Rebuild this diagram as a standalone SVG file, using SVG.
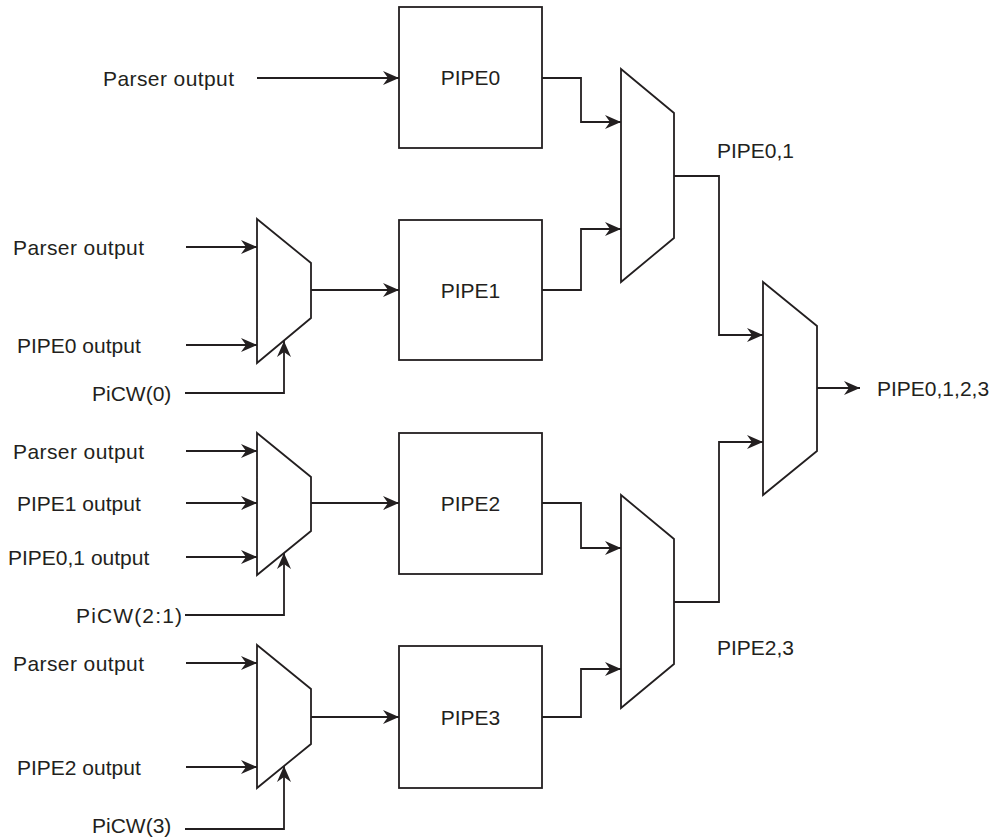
<svg xmlns="http://www.w3.org/2000/svg" width="1001" height="838" viewBox="0 0 1001 838">
  <style>
    .bg { fill: #ffffff; }
    .blk { fill: #ffffff; stroke: #231f20; stroke-width: 1.8; }
    .mux { fill: #ffffff; stroke: #231f20; stroke-width: 1.8; stroke-linejoin: miter; }
    .wire { fill: none; stroke: #231f20; stroke-width: 1.8; }
    .arr { marker-end: url(#head); }
    .lbl { font-family: "Liberation Sans", Arial, sans-serif; font-size: 21px; fill: #231f20; }
    .mid { text-anchor: middle; }
  </style>
  <defs>
    <marker id="head" markerUnits="userSpaceOnUse" markerWidth="18" markerHeight="16" refX="16" refY="7" orient="auto">
      <path d="M0,0 L16,7 L0,14 L5,7 z" fill="#231f20"/>
    </marker>
  </defs>
  <rect class="bg" width="1001" height="838"/>

  <!-- pipeline stages -->
  <g id="pipe0">
    <rect class="blk" x="399" y="7" width="143" height="141"/>
    <text class="lbl mid" x="470.5" y="85">PIPE0</text>
  </g>
  <g id="pipe1">
    <rect class="blk" x="399" y="220" width="143" height="140"/>
    <text class="lbl mid" x="470.5" y="297.5">PIPE1</text>
  </g>
  <g id="pipe2">
    <rect class="blk" x="399" y="433" width="143" height="141"/>
    <text class="lbl mid" x="470.5" y="511">PIPE2</text>
  </g>
  <g id="pipe3">
    <rect class="blk" x="399" y="646" width="143" height="142"/>
    <text class="lbl mid" x="470.5" y="724.5">PIPE3</text>
  </g>

  <!-- input selectors -->
  <g id="mux-in1">
    <polygon class="mux" points="257,219 311,263 311,318 257,363"/>
  </g>
  <g id="mux-in2">
    <polygon class="mux" points="257,433 311,477 311,531 257,575"/>
  </g>
  <g id="mux-in3">
    <polygon class="mux" points="257,645 311,689 311,744 257,788"/>
  </g>

  <!-- merge stages -->
  <g id="mux-01">
    <polygon class="mux" points="621,69 674,113 674,238 621,282"/>
  </g>
  <g id="mux-23">
    <polygon class="mux" points="621,495 674,539 674,664 621,708"/>
  </g>
  <g id="mux-0123">
    <polygon class="mux" points="763,282 817,326 817,451 763,495"/>
  </g>

  <!-- signal labels -->
  <g id="labels">
    <text class="lbl" x="103" y="86" textLength="131" lengthAdjust="spacing">Parser output</text>

    <text class="lbl" x="13" y="254.5" textLength="131" lengthAdjust="spacing">Parser output</text>
    <text class="lbl" x="17" y="352.5">PIPE0 output</text>
    <text class="lbl" x="92" y="400.5">PiCW(0)</text>

    <text class="lbl" x="13" y="458.5" textLength="131" lengthAdjust="spacing">Parser output</text>
    <text class="lbl" x="17" y="510.5">PIPE1 output</text>
    <text class="lbl" x="8" y="564.5">PIPE0,1 output</text>
    <text class="lbl" x="76" y="622.5" textLength="106" lengthAdjust="spacing">PiCW(2:1)</text>

    <text class="lbl" x="13" y="670.5" textLength="131" lengthAdjust="spacing">Parser output</text>
    <text class="lbl" x="17" y="774.5">PIPE2 output</text>
    <text class="lbl" x="92" y="833">PiCW(3)</text>

    <text class="lbl" x="717" y="158">PIPE0,1</text>
    <text class="lbl" x="717" y="655">PIPE2,3</text>
    <text class="lbl" x="877" y="395.5">PIPE0,1,2,3</text>
  </g>

  <!-- connectors -->
  <g id="connectors">
    <path class="wire arr" d="M257,78 H399"/>

    <path class="wire arr" d="M186,247 H257"/>
    <path class="wire arr" d="M186,345 H257"/>
    <path class="wire arr" d="M185,393 H284 V341"/>
    <path class="wire arr" d="M311,290 H399"/>

    <path class="wire arr" d="M186,451 H257"/>
    <path class="wire arr" d="M186,503 H257"/>
    <path class="wire arr" d="M186,557 H257"/>
    <path class="wire arr" d="M185,615 H284 V553"/>
    <path class="wire arr" d="M311,503 H399"/>

    <path class="wire arr" d="M186,663 H257"/>
    <path class="wire arr" d="M186,767 H257"/>
    <path class="wire arr" d="M185,829 H284 V766"/>
    <path class="wire arr" d="M311,717 H399"/>

    <path class="wire arr" d="M542,78 H581 V122 H621"/>
    <path class="wire arr" d="M542,290 H581 V229 H621"/>
    <path class="wire arr" d="M542,503 H581 V548 H621"/>
    <path class="wire arr" d="M542,717 H581 V669 H621"/>

    <path class="wire arr" d="M674,176 H719 V335 H763"/>
    <path class="wire arr" d="M674,602 H719 V442 H763"/>
    <path class="wire arr" d="M817,388 H860"/>
  </g>
</svg>
